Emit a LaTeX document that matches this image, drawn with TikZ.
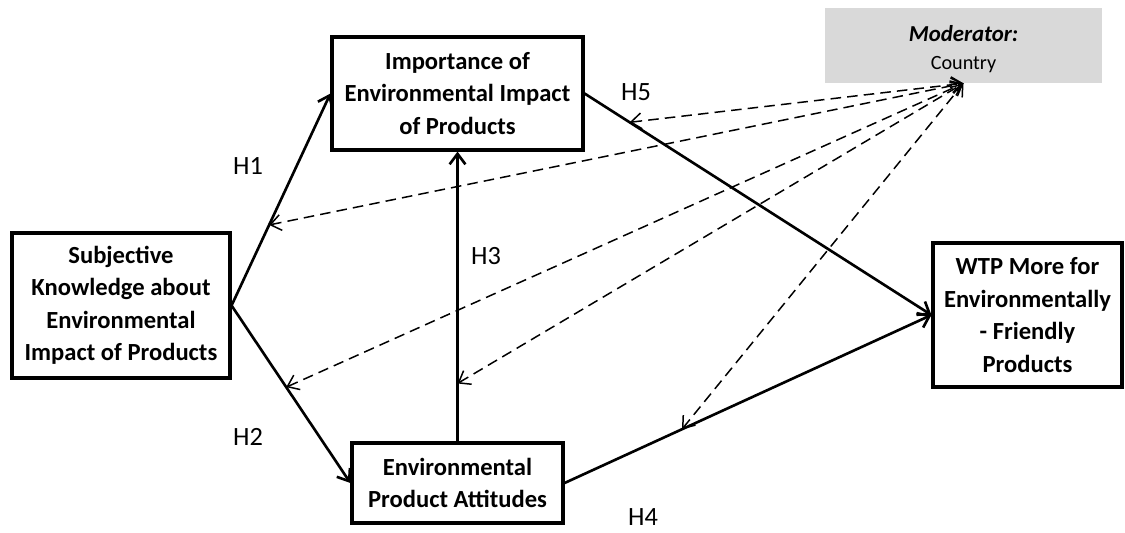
\documentclass[tikz,border=0pt]{standalone}
\usepackage{fontspec}
\setmainfont{Carlito}
\usetikzlibrary{arrows.meta}
\definecolor{modgray}{HTML}{D9D9D9}

\begin{document}
\begin{tikzpicture}[x=0.02cm,y=-0.02cm,
  box/.style={draw,line width=1.8pt,align=center,inner sep=0pt,font=\fontsize{14}{18.5}\selectfont\bfseries},
  path/.style={line width=1.5pt,-{Straight Barb[length=6pt,width=9pt]}},
  moderate/.style={line width=0.85pt,dash pattern=on 6pt off 3.5pt,{Straight Barb[length=6pt,width=9pt]}-{Straight Barb[length=6pt,width=9pt]}},
  hyp/.style={font=\fontsize{15}{18}\selectfont}]
\useasboundingbox (0,0) rectangle (1125,532);
\node[box,minimum width=4.36cm,minimum height=2.9cm] (know) at (121,305.5) {Subjective\\Knowledge about\\Environmental\\Impact of Products};
\node[box,minimum width=5.02cm,minimum height=2.26cm] (imp) at (457.5,93.5) {Importance of\\Environmental Impact\\of Products};
\node[box,minimum width=4.22cm,minimum height=1.6cm] (att) at (457.5,483) {Environmental\\Product Attitudes};
\node[box,minimum width=3.78cm,minimum height=2.88cm] (wtp) at (1027.5,315) {WTP More for\\Environmentally\\- Friendly\\Products};
\node[fill=modgray,minimum width=5.54cm,minimum height=1.5cm,align=center,inner sep=0pt] (mod) at (963.5,45.5)
  {\rule{0pt}{13.5pt}{\fontsize{13}{15.5}\selectfont\bfseries\itshape Moderator:}\\[4pt]{\fontsize{11.5}{15.5}\selectfont Country}};
\draw[path] (know.east) -- coordinate[pos=0.38] (onh1) (imp.west);
\draw[path] (know.east) -- coordinate[pos=0.46] (onh2) (att.west);
\draw[path] (att.north) -- coordinate[pos=0.2] (onh3) (imp.south);
\draw[path] (att.east) -- coordinate[pos=0.32] (onh4) (wtp.west);
\draw[path] (imp.east) -- coordinate[pos=0.13] (onh5) (wtp.west);
\draw[moderate] (onh5) -- (mod.south);
\draw[moderate] (onh1) -- (mod.south);
\draw[moderate] (onh2) -- (mod.south);
\draw[moderate] (onh3) -- (mod.south);
\draw[moderate] (onh4) -- (mod.south);
\node[hyp] (h1) at (248,166) {H1};
\node[hyp] (h2) at (248,437) {H2};
\node[hyp] (h3) at (486,256) {H3};
\node[hyp] (h4) at (643,517) {H4};
\node[hyp] (h5) at (636,92) {H5};
\end{tikzpicture}
\end{document}
